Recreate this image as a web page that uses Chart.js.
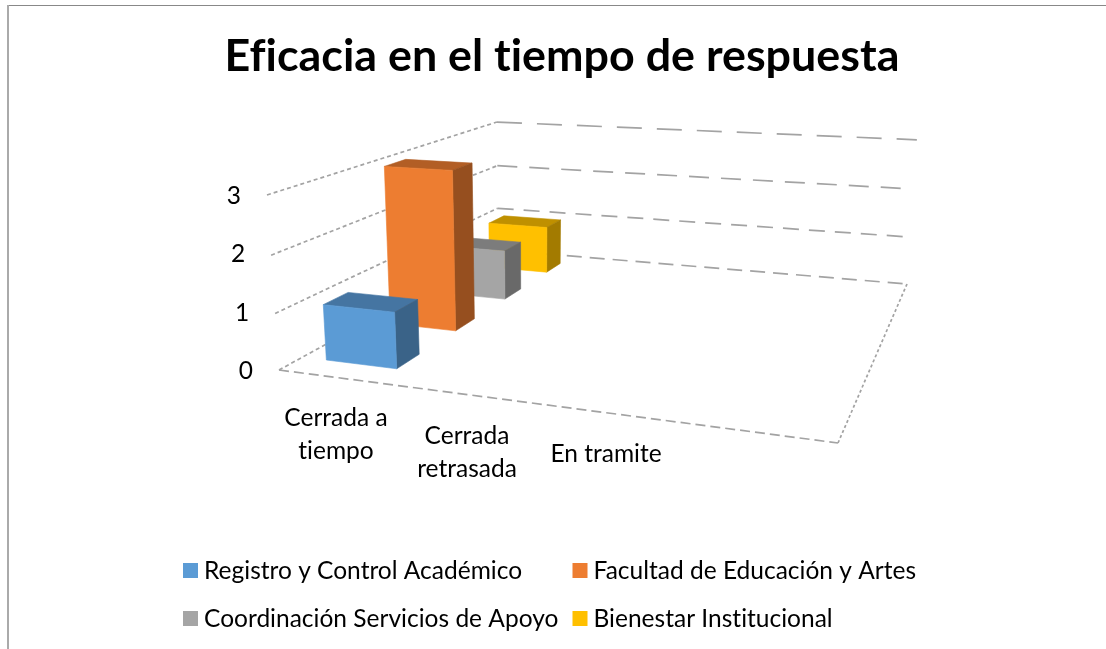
<!DOCTYPE html>
<html lang="es"><head><meta charset="utf-8">
<script src="https://cdn.jsdelivr.net/npm/chart.js@4"></script>
<style>html,body{margin:0;padding:0;background:#fff}canvas{display:block}</style>
</head><body><canvas id="c" width="1106" height="649"></canvas>
<script>
const chartTitle = 'Eficacia en el tiempo de respuesta';
const categories = [['Cerrada a','tiempo'],['Cerrada','retrasada'],['En tramite']];
const seriesNames = ['Registro y Control Académico','Facultad de Educación y Artes','Coordinación Servicios de Apoyo','Bienestar Institucional'];
const registro = [1,null,null];
const facultad = [3,null,null];
const coordinacion = [1,null,null];
const bienestar = [1,null,null];
const yTicks = [0,1,2,3];
const frontColors = ['#5B9BD5','#ED7D31','#A5A5A5','#FFC000'];
const topColors = ['#4575A2','#B25E25','#7C7C7C','#BF9000'];
const sideColors = ['#3A6388','#964F1F','#696969','#A37B00'];

const FONT = 'Lato';
const LABEL_PX = 24.5;
const GRID = '#A3A3A3';
// view of the 3D box: floor corners and lift of the back/front wall
const A=[279,370],B=[838,443],C=[907,284],D=[498,250];
const dx1=B[0]-C[0],dx2=D[0]-C[0],sx=A[0]-B[0]+C[0]-D[0];
const dy1=B[1]-C[1],dy2=D[1]-C[1],sy=A[1]-B[1]+C[1]-D[1];
const det=dx1*dy2-dx2*dy1;
const g=(sx*dy2-dx2*sy)/det,h=(dx1*sy-sx*dy1)/det;
const a=B[0]-A[0]+g*B[0],b=D[0]-A[0]+h*D[0],c=A[0];
const d=B[1]-A[1]+g*B[1],e=D[1]-A[1]+h*D[1],f=A[1];
const p=-24.3,q=-183.97,r=-0.046;
function proj(u,v,H){const w=g*u+h*v+r*H+1;return [(a*u+b*v+p*H+c)/w,(d*u+e*v+q*H+f)/w];}
const SLOTS_USED=0.75;      // three categories fill 3/4 of the floor
const DEPTH_BAR=0.09;       // bar depth as a fraction of floor depth
const labelNudge=[0,-4,0];

function poly(ctx,pts,fill){ctx.beginPath();pts.forEach((P,i)=>i?ctx.lineTo(P[0],P[1]):ctx.moveTo(P[0],P[1]));ctx.closePath();ctx.fillStyle=fill;ctx.fill();ctx.lineWidth=0.6;ctx.strokeStyle=fill;ctx.stroke();}
function seg(ctx,P,Q,dash,width){ctx.save();ctx.strokeStyle=GRID;ctx.lineWidth=width;ctx.setLineDash(dash);ctx.beginPath();ctx.moveTo(P[0],P[1]);ctx.lineTo(Q[0],Q[1]);ctx.stroke();ctx.restore();}

const wallDash={0:[15,8],1:[16,10],2:[20,12],3:[25,15]};

const box3d={id:'box3d',
 beforeDraw(ch){const x=ch.ctx;x.letterSpacing='0.01px';x.save();x.fillStyle='#fff';x.fillRect(0,0,ch.width,ch.height);
   x.fillStyle='#888888';x.fillRect(7,5,ch.width-7,1);x.fillStyle='#AAAAAA';x.fillRect(7,5,2,ch.height-5);x.restore();},
 beforeDatasetsDraw(ch){const x=ch.ctx,ys=ch.scales.y;
   yTicks.forEach(v=>{const H=(ys.bottom-ys.getPixelForValue(v))/(ys.bottom-ys.top);
     seg(x,proj(0,0,H),proj(0,1,H),[4,3],1.7);
     seg(x,proj(0,1,H),proj(H>0?0.99:1,1,H),wallDash[v],1.7);});
   seg(x,proj(0,0,0),proj(1,0,0),[10,5],1.7);
   seg(x,proj(1,0,0),proj(1,1,0),[3,2.5],1.7);
 },
 afterDatasetsDraw(ch){const x=ch.ctx,xs=ch.scales.x,ys=ch.scales.y,W=xs.right-xs.left,HH=ys.bottom-ys.top,N=ch.data.datasets.length;
   for(let i=N-1;i>=0;i--){const vc=(i+0.5)/N,v0=vc-DEPTH_BAR/2,v1=vc+DEPTH_BAR/2;
     ch.getDatasetMeta(i).data.forEach((el,j)=>{
       if(ch.data.datasets[i].data[j]==null)return;
       const u0=(el.x-el.width/2-xs.left)/W*SLOTS_USED,u1=(el.x+el.width/2-xs.left)/W*SLOTS_USED;
       const h0=(ys.bottom-el.base)/HH,h1=(ys.bottom-el.y)/HH;
       poly(x,[proj(u0,v0,h1),proj(u0,v1,h1),proj(u1,v1,h1),proj(u1,v0,h1)],topColors[i]);
       poly(x,[proj(u1,v0,h0),proj(u1,v1,h0),proj(u1,v1,h1),proj(u1,v0,h1)],sideColors[i]);
       poly(x,[proj(u0,v0,h0),proj(u1,v0,h0),proj(u1,v0,h1),proj(u0,v0,h1)],frontColors[i]);
     });}
   // axis labels, following the slanted axes
   x.save();x.fillStyle='#000';x.font=LABEL_PX+'px '+FONT;x.textBaseline='middle';
   x.textAlign='right';
   yTicks.forEach(v=>{const py=ys.getPixelForValue(v),H=(ys.bottom-py)/HH;x.fillText(String(v),proj(0,0,H)[0]-26,py+1);});
   x.textAlign='center';
   categories.forEach((lines,i)=>{const px=xs.getPixelForTick(i)+labelNudge[i];
     lines.forEach((t,k)=>x.fillText(t,px,ys.bottom+48+i*18+k*33));});
   // legend
   x.textAlign='left';
   const cols=[183,572.5],rows=[570.5,618.5];
   seriesNames.forEach((n,i)=>{const cx=cols[i%2],cy=rows[i>>1];
     x.fillStyle=frontColors[i];x.fillRect(cx,cy-7.5,15,15);
     x.fillStyle='#000';x.fillText(n,cx+21,cy+1);});
   x.restore();
 }};

new Chart(document.getElementById('c'),{
 type:'bar',
 data:{labels:categories,datasets:[registro,facultad,coordinacion,bienestar].map((vals,i)=>({
   label:seriesNames[i],data:vals,backgroundColor:'rgba(0,0,0,0)',borderWidth:0,grouped:false,categoryPercentage:1,barPercentage:0.59}))},
 options:{responsive:false,animation:false,
  layout:{padding:{left:18}},
  plugins:{legend:{display:false},tooltip:{enabled:false},
   title:{display:true,text:chartTitle,color:'#000',font:{family:FONT,size:44.8,weight:'bold',lineHeight:1.2},padding:{top:30,bottom:111.24}}},
  scales:{
   x:{grid:{display:false},border:{display:false},ticks:{display:false},afterFit(s){s.height=279;}},
   y:{min:0,max:3,grid:{display:false},border:{display:false},ticks:{display:false,stepSize:1},afterFit(s){s.width=250.5;}},
   spacer:{position:'right',grid:{display:false},border:{display:false},ticks:{display:false},afterFit(s){s.width=432.5;}}
  }},
 plugins:[box3d]
});
</script></body></html>
